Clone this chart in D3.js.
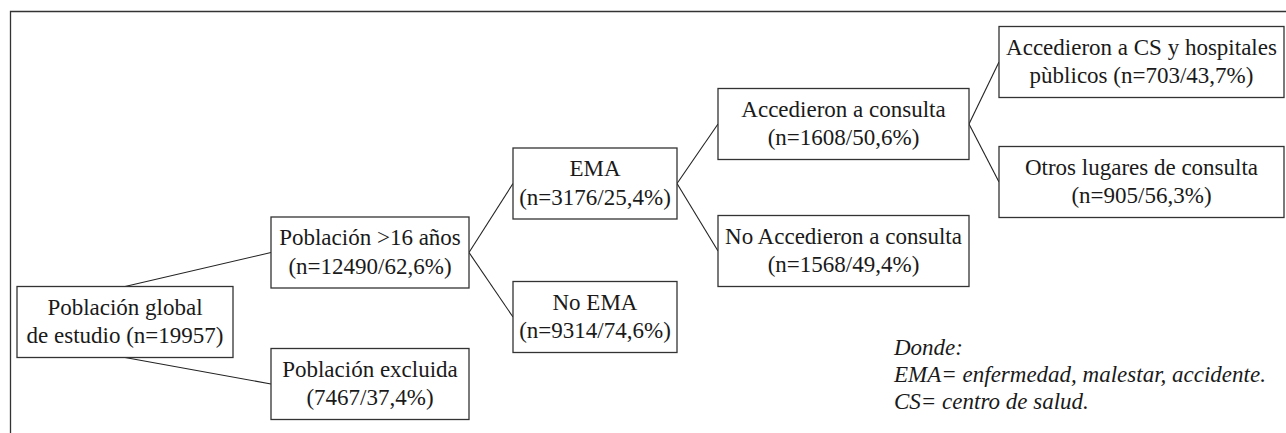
<!DOCTYPE html>
<html>
<head>
<meta charset="utf-8">
<script src="https://cdn.jsdelivr.net/npm/d3@7"></script>
<style>
  body { margin: 0; background: #fff; }
  svg { display: block; }
</style>
</head>
<body>
<div id="chart-area"></div>
<script>
// nodes of the tree
var ids = ["root", "mayor16", "excluida", "ema", "noema", "accedieron", "noaccedieron", "cs", "otros"];
var parents = ["", "root", "root", "mayor16", "mayor16", "ema", "ema", "accedieron", "accedieron"];
var line1 = ["Población global", "Población >16 años", "Población excluida", "EMA", "No EMA",
             "Accedieron a consulta", "No Accedieron a consulta", "Accedieron a CS y hospitales", "Otros lugares de consulta"];
var line2 = ["de estudio (n=19957)", "(n=12490/62,6%)", "(7467/37,4%)", "(n=3176/25,4%)", "(n=9314/74,6%)",
             "(n=1608/50,6%)", "(n=1568/49,4%)", "pùblicos (n=703/43,7%)", "(n=905/56,3%)"];
var notes = ["Donde:", "EMA= enfermedad, malestar, accidente.", "CS= centro de salud."];

// layout
var W = 1286, H = 433;
var colX = d3.scaleOrdinal().domain([0, 1, 2, 3, 4]).range([17, 271, 513, 718, 999]);
var colW = d3.scaleOrdinal().domain([0, 1, 2, 3, 4]).range([216, 198, 164, 251, 285]);
var centerY = {root: 322, mayor16: 252.5, excluida: 384, ema: 183.5, noema: 317,
               accedieron: 124, noaccedieron: 251, cs: 62, otros: 182};
var boxH = 71;

var svg = d3.select("#chart-area").append("svg")
  .attr("width", W)
  .attr("height", H)
  .attr("font-family", "Liberation Serif")
  .attr("font-size", 23);

// frame
svg.append("path")
  .attr("d", "M10.5," + H + "V11.5H" + W)
  .attr("fill", "none")
  .attr("stroke", "#333")
  .attr("stroke-width", 1.3);

var table = ids.map((d, i) => ({id: d, parent: parents[i], l1: line1[i], l2: line2[i]}));
var root = d3.stratify().id(d => d.id).parentId(d => d.parent)(table);

root.each(d => {
  d.x0 = colX(d.depth);
  d.w = colW(d.depth);
  d.cy = centerY[d.id];
  d.y0 = d.cy - boxH / 2;
});

var line = d3.line();

svg.selectAll("path.link").data(root.links()).enter()
  .append("path")
  .attr("class", "link")
  .attr("fill", "none")
  .attr("stroke", "#222")
  .attr("stroke-width", 1.1)
  .attr("d", d => {
    var s = d.source, t = d.target, p0;
    if (s.depth === 0) {
      p0 = [s.x0 + s.w / 2, t.cy < s.cy ? s.y0 : s.y0 + boxH];
    } else {
      p0 = [s.x0 + s.w, s.cy];
    }
    return line([p0, [t.x0, t.cy]]);
  });

var nodes = svg.selectAll("g.node").data(root.descendants()).enter()
  .append("g")
  .attr("class", "node");

nodes.append("rect")
  .attr("x", d => d.x0)
  .attr("y", d => d.y0)
  .attr("width", d => d.w)
  .attr("height", boxH)
  .attr("fill", "#fff")
  .attr("stroke", "#333")
  .attr("stroke-width", 1.3);

nodes.append("text")
  .attr("x", d => d.x0 + d.w / 2)
  .attr("y", d => d.cy - 7.5)
  .attr("text-anchor", "middle")
  .attr("fill", "#1a1a1a")
  .text(d => d.data.l1);

nodes.append("text")
  .attr("x", d => d.x0 + d.w / 2)
  .attr("y", d => d.cy + 21)
  .attr("text-anchor", "middle")
  .attr("fill", "#1a1a1a")
  .text(d => d.data.l2);

svg.selectAll("text.note").data(notes).enter()
  .append("text")
  .attr("class", "note")
  .attr("x", 894)
  .attr("y", (d, i) => 355 + i * 27)
  .attr("font-style", "italic")
  .attr("fill", "#1a1a1a")
  .text(d => d);
</script>
</body>
</html>
